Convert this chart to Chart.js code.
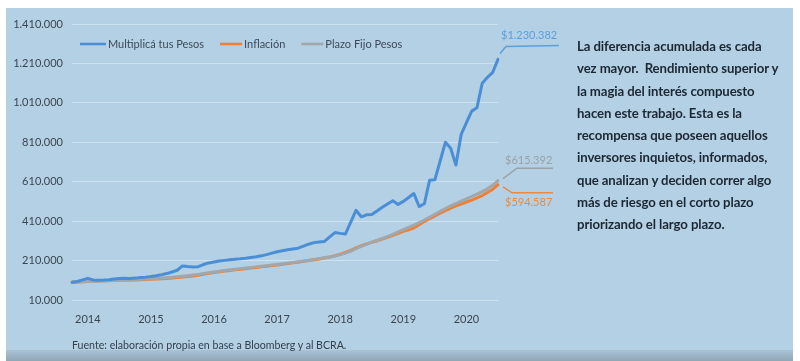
<!DOCTYPE html>
<html>
<head>
<meta charset="utf-8">
<script src="https://cdn.jsdelivr.net/npm/chart.js@4.4.0/dist/chart.umd.min.js"></script>
<style>
  html, body { margin:0; padding:0; background:#ffffff; width:800px; height:361px; overflow:hidden; }
  #panel { position:absolute; left:6px; top:8px; width:787px; height:342px; background:#b3d0e5; }
  #strip { position:absolute; left:6px; top:350px; width:787px; height:11px; background:linear-gradient(#a9c3d5,#90a7b6); }
  #c { position:absolute; left:0; top:0; }
  #note { position:absolute; left:577px; top:35px; width:218px; font:bold 13.2px Lato, sans-serif; line-height:22.3px; color:#1c2732; white-space:nowrap; letter-spacing:-0.1px; }
  #src { position:absolute; left:72px; top:339px; font:10.6px Lato, sans-serif; line-height:12px; color:#34404a; white-space:nowrap; }
</style>
</head>
<body>
<div id="panel"></div>
<div id="strip"></div>
<canvas id="c" width="800" height="361"></canvas>
<div id="note">La diferencia acumulada es cada<br>vez mayor.&nbsp; Rendimiento superior y<br>la magia del interés compuesto<br>hacen este trabajo. Esta es la<br>recompensa que poseen aquellos<br>inversores inquietos, informados,<br>que analizan y deciden correr algo<br>más de riesgo en el corto plazo<br>priorizando el largo plazo.</div>
<div id="src">Fuente: elaboración propia en base a Bloomberg y al BCRA.</div>
<script>
// ---------- DATA ----------
const months = [
  '2013-10','2013-11','2013-12',
  '2014-01','2014-02','2014-03','2014-04','2014-05','2014-06','2014-07','2014-08','2014-09','2014-10','2014-11','2014-12',
  '2015-01','2015-02','2015-03','2015-04','2015-05','2015-06','2015-07','2015-08','2015-09','2015-10','2015-11','2015-12',
  '2016-01','2016-02','2016-03','2016-04','2016-05','2016-06','2016-07','2016-08','2016-09','2016-10','2016-11','2016-12',
  '2017-01','2017-02','2017-03','2017-04','2017-05','2017-06','2017-07','2017-08','2017-09','2017-10','2017-11','2017-12',
  '2018-01','2018-02','2018-03','2018-04','2018-05','2018-06','2018-07','2018-08','2018-09','2018-10','2018-11','2018-12',
  '2019-01','2019-02','2019-03','2019-04','2019-05','2019-06','2019-07','2019-08','2019-09','2019-10','2019-11','2019-12',
  '2020-01','2020-02','2020-03','2020-04','2020-05','2020-06','2020-07'
];
const seriesNames = ['Multiplicá tus Pesos', 'Inflación', 'Plazo Fijo Pesos'];
const multiplica = [
  100000,104000,112000,120000,112000,110000,111000,113000,116000,119000,
  120000,119000,121000,124000,126000,129000,133000,138000,144000,152000,
  161000,183000,180000,178000,179000,190000,198000,203000,208000,211000,
  214000,217000,219000,222000,226000,229000,234000,240000,248000,255000,
  260000,265000,269000,273000,283000,293000,301000,304000,307000,330000,
  352000,348000,345000,405000,465000,432000,442000,444000,462000,480000,
  497000,513000,495000,510000,530000,550000,484000,498000,618000,620000,
  715000,810000,780000,695000,850000,910000,968000,985000,1110000,1140000,
  1165000,1230382
];
const inflacion = [
  100000,101000,102500,104000,106000,107000,108000,109000,110000,110500,
  111000,111500,112000,113000,114000,115000,116000,117500,119000,121000,
  123500,126000,129000,132000,136000,141000,146000,150000,153000,157000,
  160000,163000,166000,169000,172000,175000,178500,181500,185000,188000,
  191000,195000,198500,202000,206000,210000,214000,218000,223000,228000,
  235000,242000,251000,262000,274000,285000,294000,302000,310000,319000,
  328000,338000,348000,358000,366000,375000,392000,408000,422000,436000,
  450000,463000,476000,487000,497000,507000,517000,528000,540000,555000,
  572000,594587
];
const plazoFijo = [
  100000,101500,103000,104000,105000,106000,107000,108000,109000,110000,
  111000,112000,113500,115000,116500,118000,119500,121000,123000,125000,
  127500,130000,133000,136500,140000,144000,148000,152000,156000,159500,
  163000,166000,169000,172000,175000,178000,181000,184000,187000,190000,
  193500,197000,200500,204000,208000,212000,216000,220000,224000,228000,
  233000,240000,248000,258000,270000,282000,293000,303000,313000,322000,
  332000,343000,355000,367000,378000,390000,402000,416000,430000,445000,
  460000,474000,487000,499000,511000,523000,535000,547000,560000,574000,
  592000,615392
];
const yMin = 10000, yMax = 1410000, yStep = 200000;

// ---------- STYLE ----------
const colors = ['#4a8fd6', '#ee7f33', '#a2a7ab'];
const labelColors = ['#5b9fdc', '#ee8a3e', '#9aa2a8'];
const drawOrder = [0, 2, 1];
const legendSample = [26, 22, 22];
const calloutGeom = [
  { start:[2,-6], corner:[8,-13], end:[61,-14], text:[3,-24] },
  { start:[5,2],  corner:[14,8],  end:[55,8],  text:[7,18] },
  { start:[5,-2], corner:[19,-12.5], end:[55,-12.5], text:[7,-20.5] }
];

function fmt(v) { return String(Math.round(v)).replace(/\B(?=(\d{3})+(?!\d))/g, '.'); }

const legendPlugin = {
  id: 'inlineLegend',
  afterDraw(chart) {
    const ctx = chart.ctx;
    ctx.save();
    ctx.font = '11px Lato, sans-serif';
    ctx.textBaseline = 'middle';
    let x = 80; const y = 44;
    chart.data.datasets.forEach((ds, i) => {
      ctx.strokeStyle = ds.borderColor; ctx.lineWidth = 2.5;
      ctx.beginPath(); ctx.moveTo(x, y); ctx.lineTo(x + legendSample[i], y); ctx.stroke();
      x += legendSample[i] + 2;
      ctx.fillStyle = '#3e4a56';
      ctx.fillText(ds.label, x, y);
      x += ctx.measureText(ds.label).width + 16;
    });
    ctx.restore();
  }
};

const calloutPlugin = {
  id: 'callouts',
  afterDatasetsDraw(chart) {
    const ctx = chart.ctx;
    ctx.save();
    ctx.font = '11px Lato, sans-serif';
    ctx.textBaseline = 'middle';
    chart.data.datasets.forEach((ds, i) => {
      const meta = chart.getDatasetMeta(i);
      const pt = meta.data[meta.data.length - 1];
      const g = calloutGeom[i];
      ctx.strokeStyle = labelColors[i]; ctx.lineWidth = 1.5;
      ctx.beginPath();
      ctx.moveTo(pt.x + g.start[0], pt.y + g.start[1]);
      ctx.lineTo(pt.x + g.corner[0], pt.y + g.corner[1]);
      ctx.lineTo(pt.x + g.end[0], pt.y + g.end[1]);
      ctx.stroke();
      ctx.fillStyle = labelColors[i];
      ctx.fillText('$' + fmt(ds.data[ds.data.length - 1]), pt.x + g.text[0], pt.y + g.text[1]);
    });
    ctx.restore();
  }
};

new Chart(document.getElementById('c'), {
  type: 'line',
  data: {
    labels: months,
    datasets: [
      { label: seriesNames[0], data: multiplica, borderColor: colors[0], backgroundColor: colors[0], borderWidth: 3, order: drawOrder[0] },
      { label: seriesNames[1], data: inflacion, borderColor: colors[1], backgroundColor: colors[1], borderWidth: 3, order: drawOrder[1] },
      { label: seriesNames[2], data: plazoFijo, borderColor: colors[2], backgroundColor: colors[2], borderWidth: 3, order: drawOrder[2] }
    ]
  },
  options: {
    responsive: false,
    animation: false,
    layout: { padding: { left: 0, top: 24, right: 302, bottom: 21 } },
    elements: { point: { radius: 0 }, line: { tension: 0, borderJoinStyle: 'round', borderCapStyle: 'round' } },
    plugins: { legend: { display: false }, tooltip: { enabled: false } },
    scales: {
      x: {
        type: 'category',
        offset: false,
        grid: { display: false, drawTicks: false },
        border: { display: false },
        ticks: {
          autoSkip: false, maxRotation: 0, padding: 13,
          color: '#3c4650', font: { family: 'Lato', size: 11 },
          callback(v) { const l = this.getLabelForValue(v); return l.endsWith('-01') ? l.slice(0, 4) : ''; }
        },
        afterFit(s) { s.height = 40; }
      },
      y: {
        min: yMin, max: yMax,
        grid: { color: 'rgba(214,231,243,0.75)', lineWidth: 1, drawTicks: false },
        border: { display: false },
        ticks: { stepSize: yStep, padding: 9, color: '#3c4650', font: { family: 'Lato', size: 11 }, callback: (v) => fmt(v) },
        afterFit(s) { s.width = 72; }
      }
    }
  },
  plugins: [legendPlugin, calloutPlugin]
});
</script>
</body>
</html>
